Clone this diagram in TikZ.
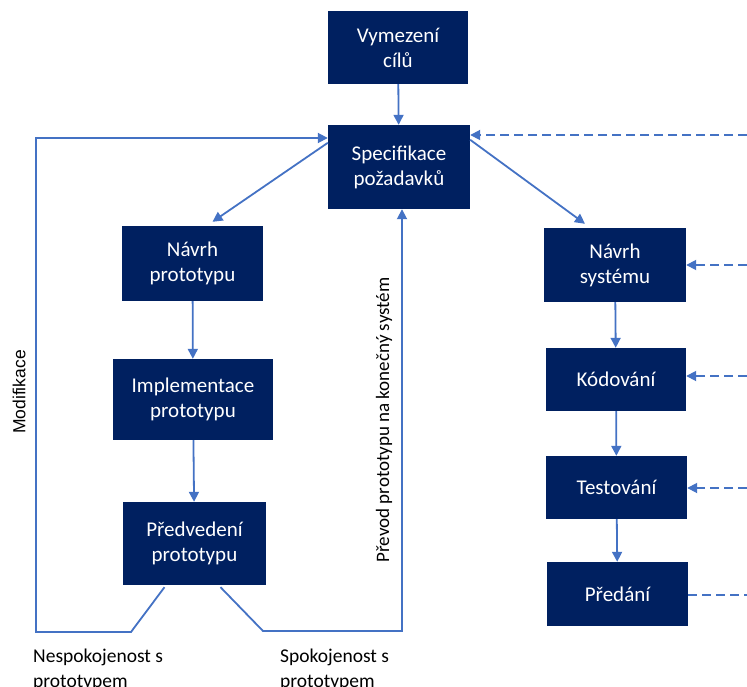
\documentclass[tikz,border=0pt]{standalone}
\usepackage{fontspec}
\setmainfont{Carlito}
\newfontfamily\arialf{Liberation Sans}
\usetikzlibrary{arrows.meta,calc}
\definecolor{navy}{HTML}{002060}
\definecolor{flow}{HTML}{4472C4}
\begin{document}
\begin{tikzpicture}[x=1pt,y=-1pt,
  stage/.style={fill=navy, text=white, inner sep=0pt, align=center,
    font=\fontsize{21}{25}\selectfont},
  link/.style={draw=flow, line width=1.8pt},
  tip/.style={-{Triangle[length=10pt,width=10pt]}},
  feed/.style={link, dash pattern=on 9pt off 5pt},
  note/.style={inner sep=0pt, anchor=base west, align=left,
    font=\fontsize{19.5}{25}\selectfont}
]
\useasboundingbox (0,0) rectangle (747,687);

% process stages
\node[stage, minimum width=140pt, minimum height=73pt] (goal)  at (398,47.5)  {Vymezení\\cílů};
\node[stage, minimum width=142pt, minimum height=84pt] (spec)  at (399,167)   {Specifikace\\požadavků};
\node[stage, minimum width=141pt, minimum height=75pt] (proto) at (192.5,263.5) {Návrh\\prototypu};
\node[stage, minimum width=160pt, minimum height=81pt] (impl)  at (193,399.5) {Implementace\\prototypu};
\node[stage, minimum width=143pt, minimum height=83pt] (demo)  at (194.5,543.5) {Předvedení\\prototypu};
\node[stage, minimum width=142pt, minimum height=74pt] (sys)   at (615,265)   {Návrh\\systému};
\node[stage, minimum width=140pt, minimum height=63pt] (code)  at (616,379.5) {Kódování};
\node[stage, minimum width=141pt, minimum height=63pt] (test)  at (616.5,487.5) {Testování};
\node[stage, minimum width=141pt, minimum height=64pt] (hand)  at (617.5,594) {Předání};

% main flow
\draw[link,tip] (goal) -- (spec);
\draw[link,tip] ([yshift=-18pt]spec.north west) -- ([xshift=20pt,yshift=4pt]proto.north);
\draw[link,tip] ([yshift=-15pt]spec.north east) -- ([xshift=-30pt,yshift=4pt]sys.north);
\draw[link,tip] (proto) -- (impl);
\draw[link,tip] (impl) -- (demo);
\draw[link,tip] (sys) -- (code);
\draw[link,tip] (code) -- (test);
\draw[link,tip] (test) -- (hand);

% prototype loop: modification
\coordinate (m1) at (131,632);
\coordinate (m2) at (36,632);
\coordinate (m3) at (36,138);
\draw[link,tip,line join=miter] ([xshift=-30pt,yshift=-2pt]demo.south) -- (m1) -- (m2) -- (m3) -- (m3 -| spec.west);

% prototype accepted
\coordinate (s1) at (263,631);
\coordinate (s2) at (402,631);
\draw[link,tip,line join=miter] ([xshift=26pt,yshift=-2pt]demo.south) -- (s1) -- (s2) -- (s2 |- spec.south);

% feedback from the right
\coordinate (f1) at (747,135);
\coordinate (f2) at (747,265);
\coordinate (f3) at (747,376);
\coordinate (f4) at (747,488);
\coordinate (f5) at (747,595);
\draw[feed,tip] (f1) -- (f1 -| spec.east);
\draw[feed,tip] (f2) -- (f2 -| sys.east);
\draw[feed,tip] (f3) -- (f3 -| code.east);
\draw[feed,tip] (f4) -- (f4 -| test.east);
\draw[feed] (hand.east |- f5) -- (f5);

% labels
\node[rotate=90, font=\arialf\fontsize{17.5}{20}\selectfont, inner sep=0pt] (mod) at (19,392) {Modifikace};
\node[rotate=90, font=\fontsize{19}{23}\selectfont, inner sep=0pt] (conv) at (384,420) {Převod prototypu na konečný systém};
\node[note] (bad)  at (33,687)  {Nespokojenost s\\prototypem};
\node[note] (good) at (280,687) {Spokojenost s\\prototypem};
\end{tikzpicture}
\end{document}
